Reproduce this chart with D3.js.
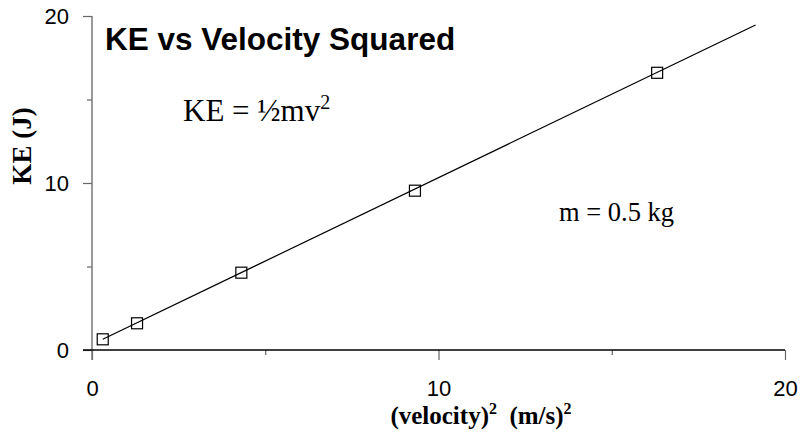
<!DOCTYPE html>
<html>
<head>
<meta charset="utf-8">
<script src="https://cdn.jsdelivr.net/npm/d3@7"></script>
<style>
  body { margin: 0; background: #fff; }
  svg { display: block; }
</style>
</head>
<body>
<svg id="chart" width="800" height="433"></svg>
<script>
// readings
const xValues = [0.31, 1.3, 4.31, 9.32, 16.31];   // (velocity)^2
const keValues = [0.64, 1.6, 4.63, 9.54, 16.6];   // KE (J)
const fitX = [0.31, 19.15];                        // ends of the drawn line
const fitY = [0.64, 19.46];
const majorTicks = [0, 10, 20];
const minorTicks = [5, 15];

const svg = d3.select('#chart');

const x = d3.scaleLinear().domain([0, 20]).range([92, 785]);
const y = d3.scaleLinear().domain([0, 20]).range([350, 16]);

const SANS = "'Liberation Sans', Arial, Helvetica, sans-serif";
const SERIF = "'Liberation Serif', 'Times New Roman', serif";

// axes: majors carry labels, minors are short ticks only
function styleAxis(g) {
  g.select('.domain').remove();
  g.selectAll('.tick line').attr('stroke', '#666').attr('stroke-width', 1.2);
  g.selectAll('.tick text').attr('fill', '#000').style('font-family', SANS).style('font-size', '22px');
}

svg.append('g')
  .attr('transform', `translate(0,${y(0)})`)
  .call(d3.axisBottom(x).tickValues(majorTicks).tickSize(10).tickPadding(20).tickFormat(d3.format('d')))
  .call(styleAxis);
svg.append('g')
  .attr('transform', `translate(0,${y(0)})`)
  .call(d3.axisBottom(x).tickValues(minorTicks).tickSize(5).tickFormat(''))
  .call(styleAxis);

svg.append('g')
  .attr('transform', `translate(${x(0)},0)`)
  .call(d3.axisLeft(y).tickValues(majorTicks).tickSize(9).tickPadding(14).tickFormat(d3.format('d')))
  .call(styleAxis);
svg.append('g')
  .attr('transform', `translate(${x(0)},0)`)
  .call(d3.axisLeft(y).tickValues(minorTicks).tickSize(5).tickFormat(''))
  .call(styleAxis);

// axis lines
svg.append('line')
  .attr('x1', x(0)).attr('x2', x(0))
  .attr('y1', y(20)).attr('y2', y(0) + 10)
  .attr('stroke', '#777').attr('stroke-width', 1.5);
svg.append('line')
  .attr('x1', x(0) - 9).attr('x2', x(20))
  .attr('y1', y(0)).attr('y2', y(0))
  .attr('stroke', '#000').attr('stroke-width', 1.3);

// fitted line
svg.append('path')
  .datum(fitX.map((d, i) => [d, fitY[i]]))
  .attr('d', d3.line().x(d => x(d[0])).y(d => y(d[1])))
  .attr('fill', 'none')
  .attr('stroke', '#000')
  .attr('stroke-width', 1.2);

// square markers
const s = 11;
svg.selectAll('rect.pt')
  .data(xValues)
  .join('rect')
  .attr('class', 'pt')
  .attr('x', d => x(d) - s / 2)
  .attr('y', (d, i) => y(keValues[i]) - s / 2)
  .attr('width', s)
  .attr('height', s)
  .attr('fill', 'none')
  .attr('stroke', '#000')
  .attr('stroke-width', 1.2);

// title
svg.append('text')
  .attr('x', 105).attr('y', 50)
  .style('font-family', SANS).style('font-weight', 'bold').style('font-size', '31.5px')
  .text('KE vs Velocity Squared');

// formula
const f = svg.append('text')
  .attr('x', 183).attr('y', 121)
  .style('font-family', SERIF).style('font-size', '31px')
  .text('KE = ½mv');
f.append('tspan').attr('dy', -12).style('font-size', '20px').text('2');

svg.append('text')
  .attr('x', 559).attr('y', 221)
  .style('font-family', SERIF).style('font-size', '26.5px')
  .text('m = 0.5 kg');

// axis titles
const xt = svg.append('text')
  .attr('x', 481).attr('y', 424)
  .attr('text-anchor', 'middle')
  .style('font-family', SERIF).style('font-weight', 'bold').style('font-size', '25px')
  .text('(velocity)');
xt.append('tspan').attr('dy', -10).style('font-size', '16px').text('2');
xt.append('tspan').attr('dy', 10).text('\u00a0 (m/s)');
xt.append('tspan').attr('dy', -10).style('font-size', '16px').text('2');

svg.append('text')
  .attr('transform', 'translate(31,146) rotate(-90)')
  .attr('text-anchor', 'middle')
  .style('font-family', SERIF).style('font-weight', 'bold').style('font-size', '27px')
  .text('KE (J)');
</script>
</body>
</html>
